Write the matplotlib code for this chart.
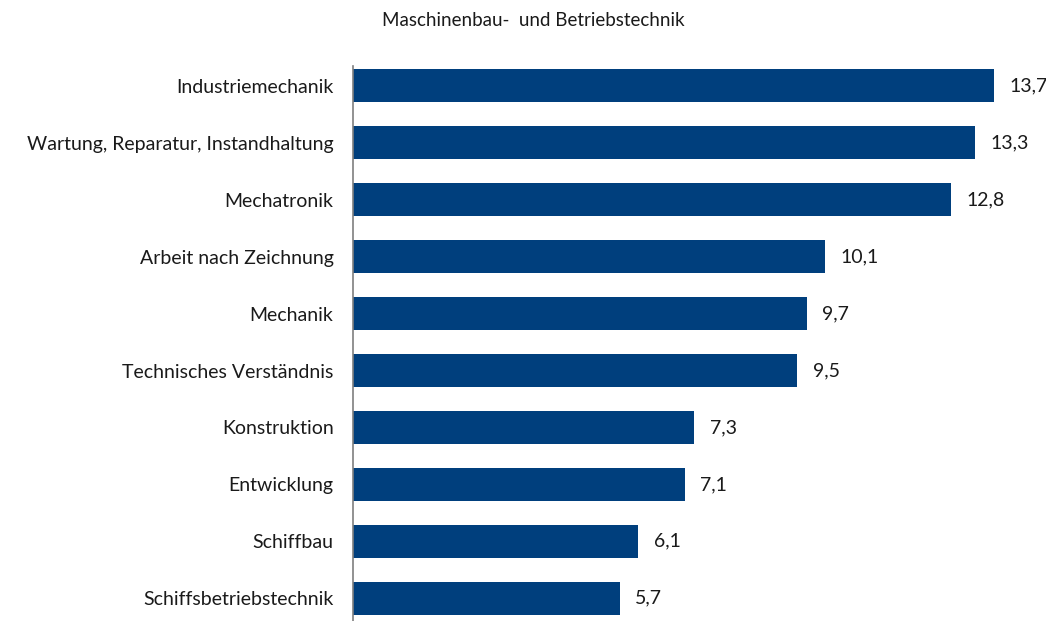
import matplotlib.pyplot as plt

plt.rcParams['font.family'] = ['Lato', 'DejaVu Sans']

# Data
categories = ['Industriemechanik', 'Wartung, Reparatur, Instandhaltung', 'Mechatronik',
              'Arbeit nach Zeichnung', 'Mechanik', 'Technisches Verständnis',
              'Konstruktion', 'Entwicklung', 'Schiffbau', 'Schiffsbetriebstechnik']
values = [13.7, 13.3, 12.8, 10.1, 9.7, 9.5, 7.3, 7.1, 6.1, 5.7]
title = 'Maschinenbau-  und Betriebstechnik'

fig = plt.figure(figsize=(10.46, 6.21), dpi=100)
ax = fig.add_axes([353 / 1046, 0, 685 / 1046, 555 / 621])

ypos = list(range(len(categories)))
ax.barh(ypos, values, height=0.58, color='#003f7d')
for y, v in zip(ypos, values):
    ax.text(v + 0.33, y, f'{v:.1f}'.replace('.', ','), va='center', ha='left',
            fontsize=14, color='#1a1a1a')

ax.set_yticks(ypos)
ax.set_yticklabels(categories, fontsize=14, color='#1a1a1a')
ax.tick_params(axis='y', length=0, pad=14)
ax.set_xticks([])
ax.set_xlim(0, 14.65)
ax.set_ylim(9.4, -0.35)
for s in ['top', 'right', 'bottom']:
    ax.spines[s].set_visible(False)
ax.spines['left'].set_color('#7f7f7f')
ax.spines['left'].set_linewidth(1.2)

fig.text(533 / 1046, 1 - 20 / 621, title, ha='center', va='center',
         fontsize=13.5, color='#1a1a1a')

fig.savefig('out.png', dpi=100)
